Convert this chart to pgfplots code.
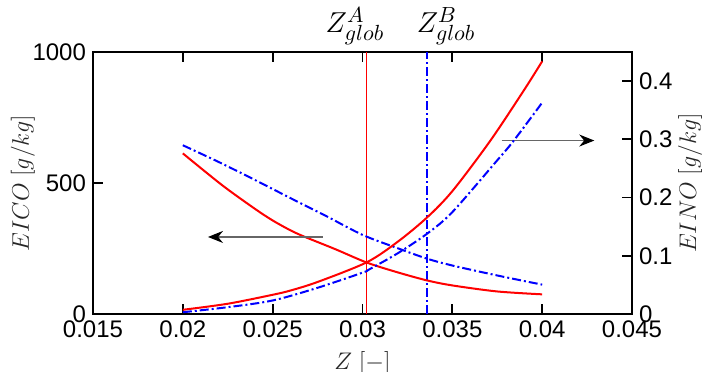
\documentclass[border=0pt]{standalone}
\usepackage[no-math]{fontspec}
\usepackage{pgfplots}
\pgfplotsset{compat=1.18}
\usetikzlibrary{arrows.meta}
\newfontfamily\arial{Liberation Sans}

\pgfplotstableread{
z v
0.02 613
0.0222 491
0.024 402
0.025 357
0.026 319
0.0268 294
0.0285 247
0.03025 196
0.032 158
0.0336 128
0.035 109
0.0375 86
0.04 75
}\redco
\pgfplotstableread{
z v
0.02 644
0.022 580
0.024 512
0.026 442
0.028 373
0.03 302
0.032 250
0.0336 211
0.035 185
0.0375 147
0.04 112
}\blueco
\pgfplotstableread{
z v
0.02 0.0072
0.0225 0.0176
0.025 0.033
0.026 0.0404
0.0275 0.055
0.03025 0.089
0.032 0.125
0.0336 0.166
0.035 0.211
0.0371 0.297
0.039 0.385
0.04 0.434
}\redno
\pgfplotstableread{
z v
0.02 0.003
0.0225 0.0117
0.025 0.0232
0.0275 0.045
0.03 0.071
0.0304 0.077
0.032 0.105
0.0336 0.138
0.035 0.175
0.0375 0.264
0.0384 0.297
0.04 0.363
}\blueno

\begin{document}
\begin{tikzpicture}
\pgfplotsset{
  every axis/.append style={
    width=269.5pt, height=131pt, scale only axis,
    xmin=0.015, xmax=0.045,
    scaled x ticks=false, scaled y ticks=false,
    axis line style={-, line width=0.9pt},
    tick align=inside,
    major tick length=5pt,
    tick style={line width=0.9pt, black},
    tick label style={font=\arial\fontsize{12}{14}\selectfont},
    /pgf/number format/assume math mode=true,
    label style={font=\fontsize{12.5}{14}\selectfont, text=black!85},
  },
}
\begin{axis}[
  ymin=0, ymax=1000,
  xtick={0.015,0.02,0.025,0.03,0.035,0.04,0.045},
  xticklabels={0.015,0.02,0.025,0.03,0.035,0.04,0.045},
  ytick={0,500,1000}, yticklabels={0,500,1000},
  ytick pos=left, xtick pos=both,
  xlabel={$Z\;[-]$}, ylabel={$EICO\;[g/kg]$},
  ylabel style={at={(axis description cs:-0.13,0.5)}, anchor=center},
  clip=false,
]
\addplot[red, line width=0.5pt] coordinates {(0.03025,0) (0.03025,1000)};
\addplot[color=blue, line width=0.75pt, dash pattern=on 4.5pt off 1.5pt on 1pt off 1.5pt] coordinates {(0.0336,0) (0.0336,1000)};
\addplot[red, line width=1pt, smooth] table[x=z,y=v] {\redco};
\addplot[color=blue, line width=1pt, smooth, dash pattern=on 4.5pt off 1.5pt on 1pt off 1.5pt] table[x=z,y=v] {\blueco};
\draw[black!60, line width=0.6pt, -{Stealth[length=7.5pt,width=6pt,black]}] (axis cs:0.0278,294) -- (axis cs:0.0214,294);
\draw[black!60, line width=0.6pt, -{Stealth[length=7.5pt,width=6pt,black]}] (axis cs:0.03775,662) -- (axis cs:0.0429,662);
\node[anchor=base, yshift=9.5pt, font=\fontsize{15}{17}\selectfont] at (axis cs:0.02958,1000) {$Z^A_{glob}$};
\node[anchor=base, yshift=9.5pt, font=\fontsize{15}{17}\selectfont] at (axis cs:0.03465,1000) {$Z^B_{glob}$};
\coordinate (SW) at (rel axis cs:0,0);
\coordinate (NE) at (rel axis cs:1,1);
\end{axis}
\begin{axis}[
  ymin=0, ymax=0.45,
  axis y line*=right, axis x line=none,
  ytick={0,0.1,0.2,0.3,0.4}, yticklabels={0,0.1,0.2,0.3,0.4},
  ylabel={$EINO\;[g/kg]$},
  ylabel style={at={(axis description cs:1.1076,0.5)}, anchor=center},
]
\addplot[red, line width=1pt, smooth] table[x=z,y=v] {\redno};
\addplot[color=blue, line width=1pt, smooth, dash pattern=on 4.5pt off 1.5pt on 1pt off 1.5pt] table[x=z,y=v] {\blueno};
\end{axis}
\pgfresetboundingbox
\path[use as bounding box] ([shift={(-46.5pt,-29pt)}]SW) rectangle ([shift={(40pt,26pt)}]NE);
\end{tikzpicture}
\end{document}
